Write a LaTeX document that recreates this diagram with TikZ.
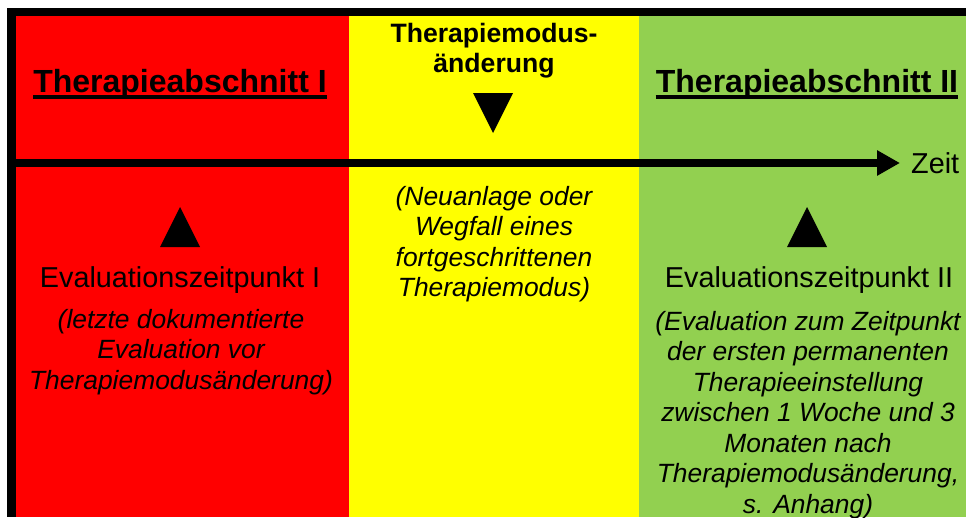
\documentclass[tikz,border=0pt]{standalone}
\usepackage{fontspec}
\setmainfont{Liberation Sans}
\usetikzlibrary{arrows.meta}

\definecolor{abschnittrot}{HTML}{FF0000}
\definecolor{modusgelb}{HTML}{FFFF00}
\definecolor{abschnittgruen}{HTML}{92D050}

\tikzset{
    titel/.style={inner sep=0pt, anchor=base, align=center, font=\fontsize{32}{36}\selectfont\bfseries},
    modustitel/.style={inner sep=0pt, anchor=base, align=center, font=\fontsize{26.6}{30}\selectfont\bfseries},
    zeitpunkt/.style={inner sep=0pt, anchor=base, font=\fontsize{28.8}{33}\selectfont},
    hinweis/.style={inner sep=0pt, anchor=base, align=center, font=\fontsize{26.4}{30.5}\selectfont\itshape},
    marke/.style={fill=black}
}

\begin{document}
\begin{tikzpicture}[x=1pt,y=-1pt]
    \useasboundingbox (0,0) rectangle (966,517);

    % Columns
    \fill[abschnittrot] (16,16) rectangle (349,517);
    \fill[modusgelb] (349,16) rectangle (639,517);
    \fill[abschnittgruen] (639,16) rectangle (966,517);

    % Frame
    \fill (7,8) rectangle (966,16);
    \fill (7,8) rectangle (16,517);

    % Time axis
    \coordinate (start) at (16,163);
    \coordinate (ende) at (900,163);
    \draw[line width=8pt, -{Triangle[length=23pt,width=24pt]}] (start) -- (ende);
    \node[zeitpunkt, anchor=base west] (zeit) at (911,173) {Zeit};

    % Headings (base = last line)
    \node[titel] (abschnittI) at (180,92) {Therapieabschnitt I};
    \node[titel] (abschnittII) at (807,92) {Therapieabschnitt II};
    \draw[line width=3.5pt] ([yshift=-5pt]abschnittI.base west) -- ([yshift=-5pt]abschnittI.base east);
    \draw[line width=3.5pt] ([yshift=-5pt]abschnittII.base west) -- ([yshift=-5pt]abschnittII.base east);
    \node[modustitel] (wechsel) at (494,72) {Therapiemodus-\\änderung};

    % Markers
    \fill[marke] (473,93) -- (513,93) -- (493,133) -- cycle;
    \fill[marke] (160,247) -- (200,247) -- (180,207) -- cycle;
    \fill[marke] (787,247) -- (827,247) -- (807,207) -- cycle;

    % Evaluation points
    \node[zeitpunkt] (evalI) at (180,287) {Evaluationszeitpunkt I};
    \node[zeitpunkt] (evalII) at (809,287) {Evaluationszeitpunkt II};

    % Notes
    \node[hinweis] (notizI) at (181,389) {(letzte dokumentierte\\Evaluation vor\\Therapiemodusänderung)};
    \node[hinweis] (notizwechsel) at (494,296.5) {(Neuanlage oder\\Wegfall eines\\fortgeschrittenen\\Therapiemodus)};
    \node[hinweis] (notizII) at (808,513) {(Evaluation zum Zeitpunkt\\der ersten permanenten\\Therapieeinstellung\\zwischen 1 Woche und 3\\Monaten nach\\Therapiemodusänderung,\\s. Anhang)};
\end{tikzpicture}
\end{document}
